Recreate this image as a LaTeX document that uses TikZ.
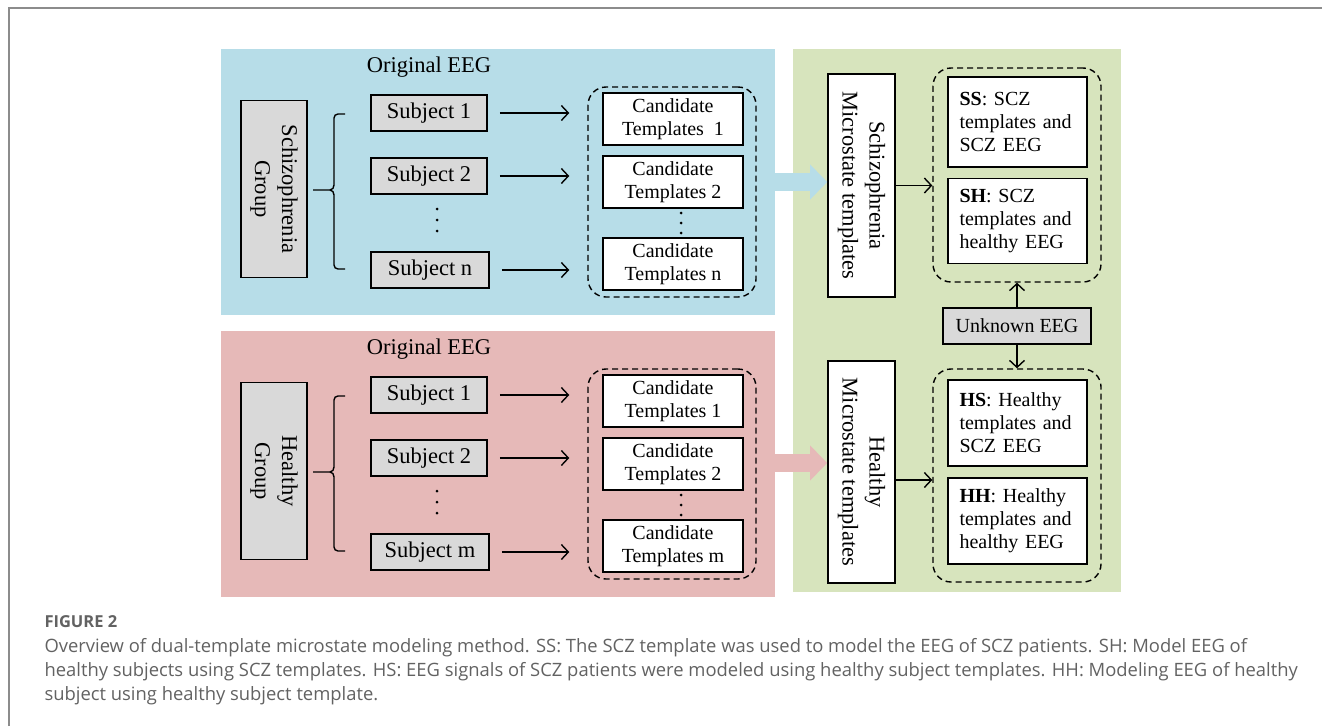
\documentclass[tikz,border=0pt]{standalone}
\usepackage{fontspec}
\setmainfont{Liberation Serif}
\newfontfamily\capfont{Open Sans}
\usetikzlibrary{arrows.meta}
\definecolor{bluebg}{HTML}{B7DDE8}
\definecolor{pinkbg}{HTML}{E6B9B8}
\definecolor{greenbg}{HTML}{D7E4BD}
\definecolor{boxgray}{HTML}{D9D9D9}
\definecolor{capgray}{HTML}{626262}
\definecolor{framegray}{HTML}{8C8C8C}
\tikzset{
  big/.style={font=\fontsize{22.5}{27}\selectfont},
  small/.style={font=\fontsize{20}{23}\selectfont},
  graybox/.style={draw=black, line width=1.6pt, fill=boxgray, inner sep=0pt},
  whitebox/.style={draw=black, line width=1.6pt, fill=white, inner sep=0pt},
  dashbox/.style={draw=black, line width=1.4pt, rounded corners=18pt, dash pattern=on 6pt off 4pt, inner sep=0pt},
  arr/.style={-{Straight Barb[length=7pt,width=15pt]}, line width=1.4pt},
  blockarrow/.style={line width=18pt, draw=#1, -{Triangle[length=17pt,width=34pt]}},
  dot/.style={circle, fill=black, inner sep=0pt, minimum size=3pt},
  captext/.style={anchor=base west, text=capgray, font=\capfont\fontsize{18.4}{24}\selectfont},
}
\newcommand\mypanel[7]{%
\begin{scope}[shift={(0,#7)}]
  \fill[#2] (221,49) rectangle (775,315);
  \node[big] (#1title) at (429,67) {Original EEG};
  \node[graybox, big, rotate=-90, minimum width=177, minimum height=66, align=center] (#1g) at (274,189) {#3};
  \node[graybox, big, minimum width=116, minimum height=36] (#1s1) at (429,113) {Subject 1};
  \node[graybox, big, minimum width=116, minimum height=36] (#1s2) at (429,176) {Subject 2};
  \node[graybox, big, minimum width=118, minimum height=36] (#1sn) at (430,270) {#4};
  \node[dot] (#1sd1) at (437,209) {};
  \node[dot] (#1sd2) at (437,220) {};
  \node[dot] (#1sd3) at (437,231) {};
  \node[dashbox, minimum width=168, minimum height=210] (#1d) at (672,192) {};
  \node[whitebox, small, minimum width=140, minimum height=52, align=center] (#1c1) at (673,119) {Candidate\\#5};
  \node[whitebox, small, minimum width=140, minimum height=52, align=center] (#1c2) at (673,182) {Candidate\\Templates 2};
  \node[whitebox, small, minimum width=140, minimum height=52, align=center] (#1cn) at (673,264) {Candidate\\#6};
  \node[dot] (#1cd1) at (681,213) {};
  \node[dot] (#1cd2) at (681,223) {};
  \node[dot] (#1cd3) at (681,233) {};
  \foreach \s in {s1,s2,sn}{
    \draw[arr, shorten <=12pt, shorten >=18pt] (#1\s.east) -- (#1\s.east -| #1d.west);
  }
  \draw[line width=1.4pt] (345,114) -- (338,114) to[out=180,in=90] (334,118) -- (334,185)
    to[out=-90,in=0] (330,190) -- (313,190);
  \draw[line width=1.4pt] (330,190) to[out=0,in=90] (334,195) -- (334,265)
    to[out=-90,in=180] (338,269) -- (345,269);
\end{scope}}
\begin{document}
\begin{tikzpicture}[x=1pt,y=-1pt]
\useasboundingbox (0,0) rectangle (1322,726);
\draw[framegray, line width=2pt] (9,726) -- (9,8) -- (1322,8);
% green panel
\fill[greenbg] (793,49) rectangle (1121,592);
\mypanel{t}{bluebg}{Schizophrenia\\Group}{Subject n}{Templates\ \ 1}{Templates n}{0}
\mypanel{b}{pinkbg}{Healthy\\Group}{Subject m}{Templates 1}{Templates m}{282}
% right side
\node[whitebox, big, rotate=-90, minimum width=223, minimum height=67, align=center] (schtemp) at (861.5,185.5) {Schizophrenia\\Microstate templates};
\node[whitebox, big, rotate=-90, minimum width=222, minimum height=67, align=center] (htemp) at (861.5,472) {Healthy\\Microstate templates};
\node[dashbox, minimum width=168, minimum height=214] (topd) at (1017,175) {};
\node[dashbox, minimum width=168, minimum height=213] (botd) at (1017,475.5) {};
\node[whitebox, small, minimum width=139, minimum height=90, text width=116, align=left] (ss) at (1017.5,122) {\textbf{SS}: SCZ\\templates and\\SCZ EEG};
\node[whitebox, small, minimum width=139, minimum height=85, text width=116, align=left] (sh) at (1017.5,221) {\textbf{SH}: SCZ\\templates and\\healthy EEG};
\node[whitebox, small, minimum width=139, minimum height=86, text width=116, align=left] (hs) at (1017.5,423) {\textbf{HS}: Healthy\\templates and\\SCZ EEG};
\node[whitebox, small, minimum width=139, minimum height=86, text width=116, align=left] (hh) at (1017.5,521) {\textbf{HH}: Healthy\\templates and\\healthy EEG};
\node[graybox, small, minimum width=148, minimum height=36] (unk) at (1017,326) {Unknown EEG};
\draw[arr] (unk.north) -- (unk.north |- topd.south);
\draw[arr] (unk.south) -- (unk.south |- botd.north);
\draw[arr] (schtemp.north) -- (schtemp.north -| topd.west);
\coordinate (ha) at (895,480);
\draw[arr] (ha) -- (ha -| botd.west);
% block arrows
\coordinate (ta) at (775,182);
\coordinate (pa) at (775,463);
\draw[blockarrow=bluebg] (ta) -- (ta -| schtemp.south);
\draw[blockarrow=pinkbg] (pa) -- (pa -| htemp.south);
% caption
\node[anchor=base west, text=capgray, font=\capfont\bfseries\fontsize{16.5}{18}\selectfont] (fig) at (41,627) {FIGURE 2};
\node[captext] (cap1) at (41,652) {Overview of dual-template microstate modeling method. SS: The SCZ template was used to model the EEG of SCZ patients. SH: Model EEG of};
\node[captext] (cap2) at (41,676) {healthy subjects using SCZ templates. HS: EEG signals of SCZ patients were modeled using healthy subject templates. HH: Modeling EEG of healthy};
\node[captext] (cap3) at (41,700) {subject using healthy subject template.};
\end{tikzpicture}
\end{document}
